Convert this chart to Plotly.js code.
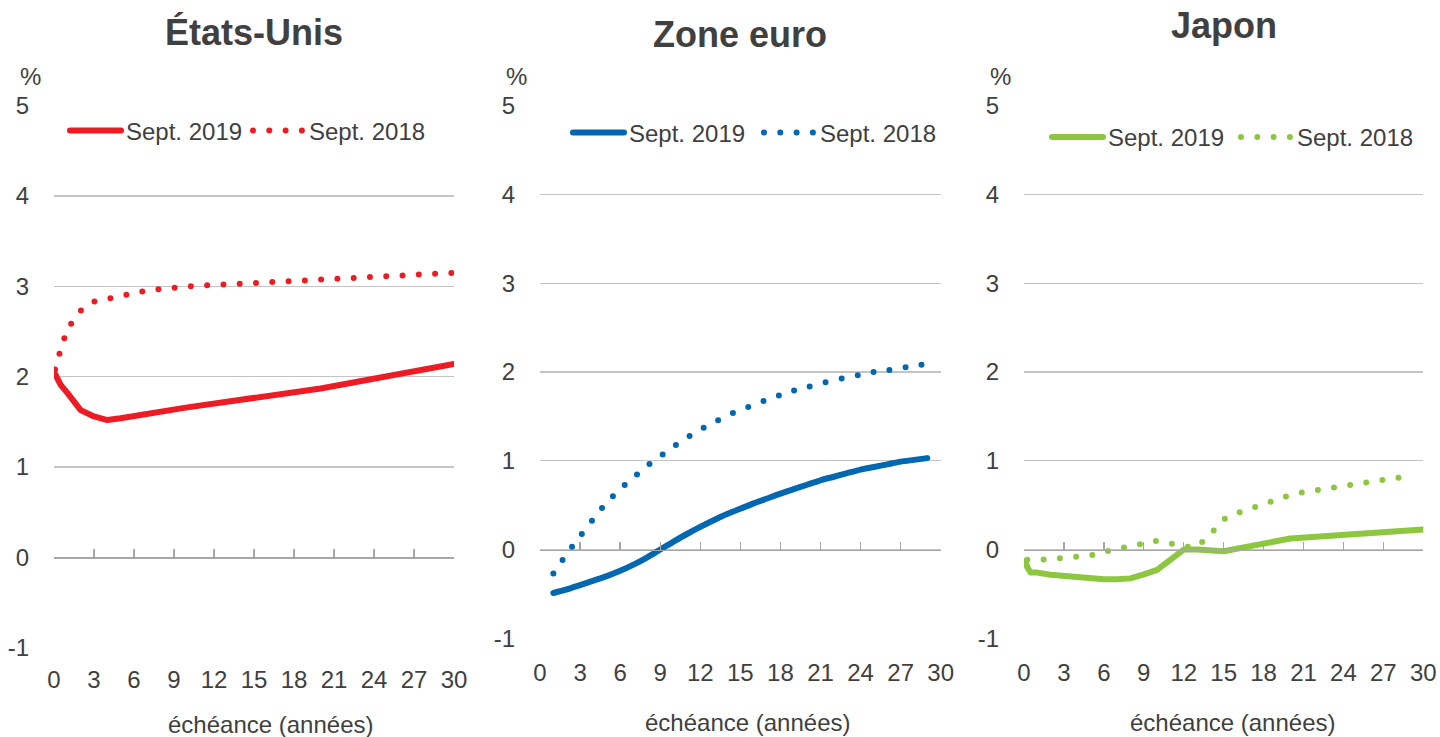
<!DOCTYPE html>
<html><head><meta charset="utf-8">
<script src="https://cdn.plot.ly/plotly-3.0.1.min.js"></script>
<style>
html,body{margin:0;padding:0;background:#fff;overflow:hidden;}
#chart{width:1440px;height:737px;}
path.js-line{stroke-linecap:round;stroke-linejoin:round;}
</style></head><body><div id="chart"></div>
<script>
// ---------- data ----------
const panelTitles = ['États-Unis', 'Zone euro', 'Japon'];
const seriesNames = ['Sept. 2019', 'Sept. 2018'];
const xAxisTitle = 'échéance (années)';
const yUnit = '%';
const xTicks = [0, 3, 6, 9, 12, 15, 18, 21, 24, 27, 30];
const yTicks = [-1, 0, 1, 2, 3, 4, 5];
const yTickLabels = ['-1', '0', '1', '2', '3', '4', '5'];

const maturityUS2019 = [0.08, 0.25, 0.5, 1, 2, 3, 4, 5, 7, 10, 20, 30];
const yieldUS2019 = [2.03, 1.98, 1.91, 1.82, 1.63, 1.56, 1.52, 1.54, 1.59, 1.66, 1.87, 2.14];
const maturityUS2018 = [0.08, 0.25, 0.5, 1, 2, 3, 5, 7, 10, 20, 30];
const yieldUS2018 = [2.08, 2.15, 2.30, 2.53, 2.73, 2.83, 2.90, 2.955, 3.00, 3.08, 3.15];

const maturityEA = [1, 2, 3, 4, 5, 6, 7, 8, 9, 10, 11, 12, 13, 14, 15, 16, 17, 18, 19, 20, 21, 22, 23, 24, 25, 26, 27, 28, 29];
const yieldEA2019 = [-0.49, -0.45, -0.40, -0.35, -0.30, -0.24, -0.17, -0.09, 0.0, 0.09, 0.175, 0.255, 0.33, 0.40, 0.46, 0.52, 0.575, 0.63, 0.68, 0.73, 0.78, 0.82, 0.86, 0.90, 0.93, 0.96, 0.99, 1.01, 1.03];
const yieldEA2018 = [-0.27, -0.05, 0.15, 0.345, 0.53, 0.68, 0.81, 0.94, 1.05, 1.16, 1.26, 1.35, 1.43, 1.51, 1.57, 1.63, 1.69, 1.74, 1.79, 1.83, 1.87, 1.905, 1.94, 1.97, 2.00, 2.02, 2.045, 2.07, 2.09];

const maturityJP2019 = [0.1, 0.25, 0.5, 1, 2, 3, 4, 5, 6, 7, 8, 9, 10, 12, 13, 15, 20, 25, 30];
const yieldJP2019 = [-0.13, -0.20, -0.26, -0.26, -0.285, -0.30, -0.315, -0.315, -0.335, -0.335, -0.325, -0.28, -0.23, 0.0, 0.0, -0.02, 0.125, 0.175, 0.225];
const maturityJP2018 = [0.25, 1, 2, 3, 4, 5, 6, 7, 8, 9, 10, 11, 12, 13, 14, 15, 16, 17, 18, 19, 20, 21, 22, 23, 24, 25, 26, 27, 28, 29];
const yieldJP2018 = [-0.115, -0.12, -0.11, -0.095, -0.08, -0.068, -0.025, 0.005, 0.04, 0.08, 0.10, 0.07, 0.03, 0.03, 0.17, 0.34, 0.41, 0.46, 0.515, 0.565, 0.615, 0.645, 0.67, 0.69, 0.715, 0.74, 0.765, 0.79, 0.81, 0.83];

// ---------- style ----------
const W = 1440, H = 737;
const FONT = '"Liberation Sans", Arial, sans-serif';
const FS = 24;
const TXT = '#404040';
const GRID = '#c4c4c4';
const AXIS = '#a6a6a6';
const colors = ['#ED1C24', '#0067B1', '#8DC63F'];
const smooth = [false, true, false];
const px2x = p => p / W;
const px2y = p => 1 - p / H;

// plot boxes in pixels: [left, right, top(y=5), bottom(y=-1)]
const boxes = [[54, 454, 105.7, 647.7], [540, 940.7, 105.7, 638.3], [1024, 1423.3, 105.7, 638.3]];
const yRange = [-1, 5];
const xRange = [0, 30];
const titleY = [32, 34.5, 25.5];
const legendPos = [[65, 131], [568, 133], [1047, 137.5]];
const legendEntryW = [117, 125, 123];
const xTitlePos = [[0.54, 724], [0.517, 722], [0.521, 722]];

const series = [
  [[maturityUS2019, yieldUS2019], [maturityUS2018, yieldUS2018]],
  [[maturityEA, yieldEA2019], [maturityEA, yieldEA2018]],
  [[maturityJP2019, yieldJP2019], [maturityJP2018, yieldJP2018]]
];

const data = [];
const layout = {
  width: W, height: H,
  margin: {l: 0, r: 0, t: 0, b: 0},
  paper_bgcolor: '#fff', plot_bgcolor: '#fff',
  showlegend: true,
  annotations: [],
  font: {family: FONT, color: TXT, size: FS}
};

boxes.forEach((b, i) => {
  const n = i === 0 ? '' : String(i + 1);
  const xDom = [px2x(b[0]), px2x(b[1])];
  const yDom = [px2y(b[3]), px2y(b[2])];
  const zeroPos = yDom[0] + (0 - yRange[0]) / (yRange[1] - yRange[0]) * (yDom[1] - yDom[0]);
  const legendId = 'legend' + n;
  series[i].forEach((s, k) => {
    data.push({
      type: 'scatter', mode: 'lines',
      x: s[0], y: s[1],
      xaxis: 'x' + n, yaxis: 'y' + n,
      name: seriesNames[k],
      legend: legendId,
      line: {color: colors[i], width: 6, dash: k === 0 ? 'solid' : '0px,16.3px',
             shape: smooth[i] ? 'spline' : 'linear', smoothing: 0.8},
      hoverinfo: 'x+y'
    });
  });
  layout['xaxis' + n] = {
    domain: xDom, range: xRange, anchor: 'free', position: zeroPos,
    tickvals: xTicks, ticks: 'inside', ticklen: 8, tickwidth: 1.3, tickcolor: AXIS,
    showline: true, linecolor: AXIS, linewidth: 1.3,
    showgrid: false, zeroline: false,
    ticklabelstandoff: 101,
    tickfont: {family: FONT, size: FS, color: TXT}
  };
  layout['yaxis' + n] = {
    domain: yDom, range: yRange, anchor: 'x' + n,
    tickvals: yTicks, ticktext: yTickLabels, ticks: '',
    showgrid: true, gridcolor: GRID, gridwidth: 1.3,
    zeroline: false, showline: false,
    ticklabelstandoff: 24,
    tickfont: {family: FONT, size: FS, color: TXT}
  };
  layout[legendId] = {
    x: px2x(legendPos[i][0]), xanchor: 'left',
    y: px2y(legendPos[i][1]), yanchor: 'middle',
    orientation: 'h', itemwidth: 51, entrywidth: legendEntryW[i],
    bgcolor: 'rgba(0,0,0,0)', borderwidth: 0,
    font: {family: FONT, size: FS, color: TXT}
  };
  layout.annotations.push({
    xref: 'paper', yref: 'paper',
    x: (xDom[0] + xDom[1]) / 2, y: px2y(titleY[i]),
    xanchor: 'center', yanchor: 'middle', showarrow: false,
    text: panelTitles[i],
    font: {family: FONT, size: 36, color: TXT, weight: 'bold'}
  });
  layout.annotations.push({
    xref: 'paper', yref: 'paper',
    x: px2x(b[0] - 24), y: px2y(77),
    xanchor: 'center', yanchor: 'middle', showarrow: false,
    text: yUnit,
    font: {family: FONT, size: FS, color: TXT}
  });
  layout.annotations.push({
    xref: 'x' + n + ' domain', yref: 'paper',
    x: xTitlePos[i][0], y: px2y(xTitlePos[i][1]),
    xanchor: 'center', yanchor: 'middle', showarrow: false,
    text: xAxisTitle,
    font: {family: FONT, size: FS, color: TXT}
  });
});

Plotly.newPlot('chart', data, layout, {displayModeBar: false, staticPlot: true});
</script></body></html>
